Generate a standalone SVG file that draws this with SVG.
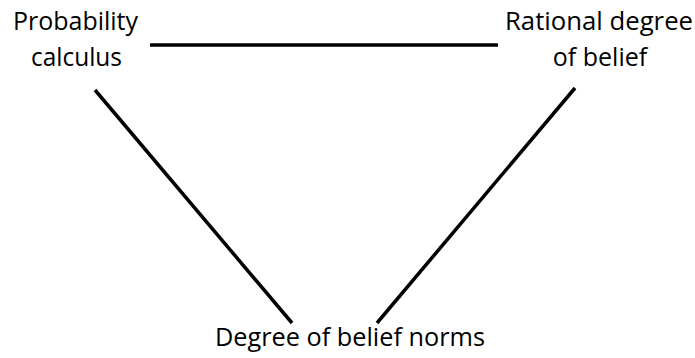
<svg xmlns="http://www.w3.org/2000/svg" width="695" height="358" viewBox="0 0 695 358">
<style>
text{font-family:"Open Sans","Liberation Sans",sans-serif;font-size:25px;fill:#000;text-anchor:middle}
.c line{stroke:#000;stroke-width:3.5;stroke-linecap:butt}
</style>
<rect width="695" height="358" fill="#fff"/>
<g id="prob">
<text x="75.5" y="30" textLength="125" lengthAdjust="spacingAndGlyphs">Probability</text>
<text x="76.5" y="66" textLength="91" lengthAdjust="spacingAndGlyphs">calculus</text>
</g>
<g id="rational">
<text x="599" y="30" textLength="188" lengthAdjust="spacingAndGlyphs">Rational degree</text>
<text x="600" y="66">of belief</text>
</g>
<g id="norms">
<text x="350" y="346" textLength="270" lengthAdjust="spacingAndGlyphs">Degree of belief norms</text>
</g>
<g class="c" id="connectors">
<line x1="150" y1="45" x2="498" y2="45"/>
<line x1="95" y1="90" x2="292" y2="323"/>
<line x1="575" y1="88" x2="377" y2="323"/>
</g>
</svg>
